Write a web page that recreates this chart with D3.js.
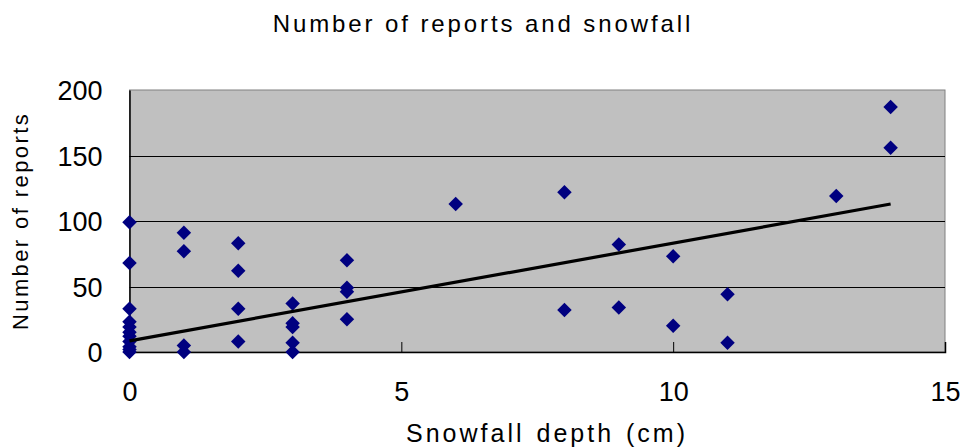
<!DOCTYPE html>
<html>
<head>
<meta charset="utf-8">
<script src="https://cdn.jsdelivr.net/npm/d3@7"></script>
<style>
  body { margin: 0; background: #fff; }
  text { font-family: "Liberation Sans", Arial, sans-serif; fill: #000; }
</style>
</head>
<body>
<svg id="chart" width="962" height="448"></svg>
<script>
// snowfall depth (cm) and number of reports
var depth   = [0,0,0,0,0,0,0,0,0,0,0, 1,1,1,1, 2,2,2,2, 3,3,3,3,3, 4,4,4,4, 6, 8,8, 9,9, 10,10, 11,11, 13, 14,14];
var reports = [99,68,33,23,19,15,12,8,4,2,0, 91,77,5,0, 83,62,33,8, 37,22,19,7,0, 70,49,46,25, 113, 122,32, 82,34, 73,20, 44,7, 119, 187,156];

var xTicks = [0, 5, 10, 15];
var yTicks = [0, 50, 100, 150, 200];

// linear trendline as shown in the picture
var trendIntercept = 8.5;
var trendSlope = 7.46;
var trendRange = [0, 14];

var svg = d3.select('#chart');
var plot = { left: 129.5, top: 90, right: 945, bottom: 352 };

var x = d3.scaleLinear().domain([0, 15]).range([plot.left, plot.right]);
var y = d3.scaleLinear().domain([0, 200]).range([plot.bottom, plot.top]);

// plot background + border
svg.append('rect')
    .attr('x', plot.left).attr('y', plot.top)
    .attr('width', plot.right - plot.left).attr('height', plot.bottom - plot.top)
    .attr('fill', '#c0c0c0')
    .attr('stroke', '#808080')
    .attr('stroke-width', 1);

// gridlines
svg.append('g')
    .selectAll('line')
    .data(yTicks.filter(function(d){ return d > 0 && d < 200; }))
    .enter()
    .append('line')
        .attr('x1', plot.left).attr('x2', plot.right)
        .attr('y1', function(d){ return Math.round(y(d)) + 0.5; })
        .attr('y2', function(d){ return Math.round(y(d)) + 0.5; })
        .attr('stroke', '#000')
        .attr('stroke-width', 1);

// x axis
var xAxis = svg.append('g')
    .attr('transform', 'translate(0,' + plot.bottom + ')')
    .call(d3.axisBottom(x).tickValues(xTicks).tickSize(-10).tickFormat(d3.format('d')));
xAxis.select('.domain').attr('stroke', '#000').attr('stroke-width', 1.5);
xAxis.selectAll('.tick line').attr('stroke', '#000');
xAxis.selectAll('.tick text')
    .attr('y', 49)
    .attr('dy', null)
    .style('font-size', '27px')
    .style('font-family', '"Liberation Sans", Arial, sans-serif')
    .attr('fill', '#000');

// y axis
var yAxis = svg.append('g')
    .attr('transform', 'translate(' + plot.left + ',0)')
    .call(d3.axisLeft(y).tickValues(yTicks).tickSize(0).tickFormat(d3.format('d')));
yAxis.select('.domain').attr('stroke', '#000').attr('stroke-width', 1.5);
yAxis.selectAll('.tick text')
    .attr('x', -27)
    .attr('dy', '0.36em')
    .style('font-size', '27px')
    .style('font-family', '"Liberation Sans", Arial, sans-serif')
    .attr('fill', '#000');

// points
var diamond = d3.symbol().type(d3.symbolSquare).size(105);
svg.append('g')
    .selectAll('path')
    .data(depth)
    .enter()
    .append('path')
        .attr('d', diamond)
        .attr('transform', function(d, i){
            return 'translate(' + x(d) + ',' + y(reports[i]) + ') rotate(45)';
        })
        .attr('fill', '#000080');

// trendline
svg.append('line')
    .attr('x1', x(trendRange[0]))
    .attr('y1', y(trendIntercept + trendSlope * trendRange[0]))
    .attr('x2', x(trendRange[1]))
    .attr('y2', y(trendIntercept + trendSlope * trendRange[1]))
    .attr('stroke', '#000')
    .attr('stroke-width', 3.2);

// titles
svg.append('text')
    .attr('x', 483).attr('y', 32)
    .attr('text-anchor', 'middle')
    .style('font-size', '24px')
    .style('letter-spacing', '2.9px')
    .text('Number of reports and snowfall');

svg.append('text')
    .attr('x', 547).attr('y', 442)
    .attr('text-anchor', 'middle')
    .style('font-size', '25px')
    .style('letter-spacing', '3px')
    .style('word-spacing', '2px')
    .text('Snowfall depth (cm)');

svg.append('text')
    .attr('transform', 'translate(28,221) rotate(-90)')
    .attr('text-anchor', 'middle')
    .style('font-size', '22px')
    .style('letter-spacing', '2.4px')
    .text('Number of reports');
</script>
</body>
</html>
